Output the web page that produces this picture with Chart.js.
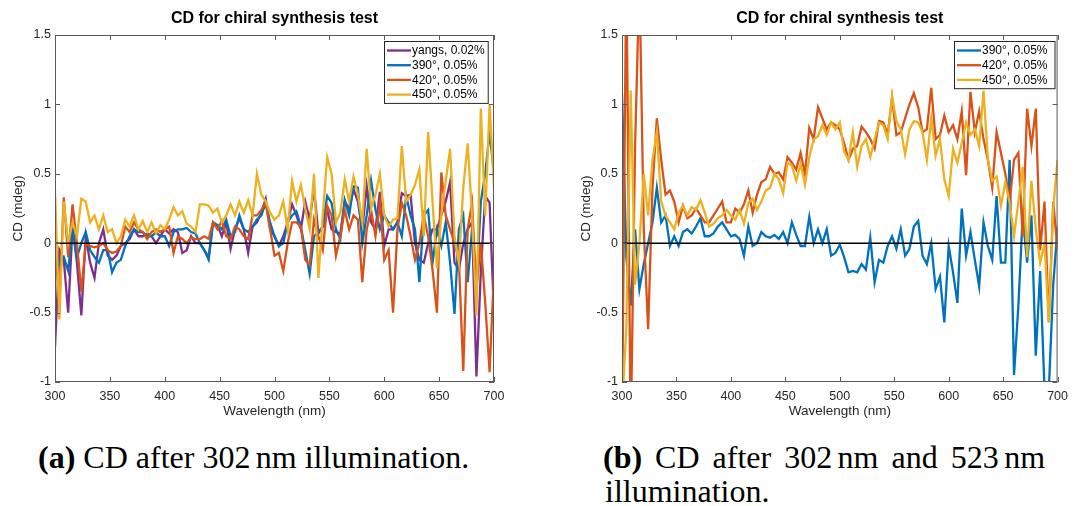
<!DOCTYPE html>
<html><head><meta charset="utf-8">
<script src="https://cdn.jsdelivr.net/npm/chart.js@4.4.0/dist/chart.umd.min.js"></script>
<style>
html,body{margin:0;padding:0;background:#fff;}
body{width:1075px;height:506px;position:relative;overflow:hidden;}
canvas{position:absolute;top:0;}
#c1{left:0;} #c2{left:540px;}
.cap{position:absolute;font-family:"Liberation Serif","Times New Roman",serif;font-size:32px;line-height:32px;color:#000;white-space:nowrap;}
.t{margin-left:0.17em;}
</style></head><body>
<canvas id="c1" width="540" height="430"></canvas>
<canvas id="c2" width="535" height="430"></canvas>
<div class="cap" style="left:38px;top:441px;"><b>(a)</b> CD after 302<span class="t">nm</span> illumination.</div>
<div class="cap" style="left:603px;top:441px;width:442px;text-align:justify;text-align-last:justify;white-space:normal;"><b>(b)</b> CD after 302<span class="t">nm</span> and 523<span class="t">nm</span></div>
<div class="cap" style="left:605px;top:475px;">illumination.</div>
<script>
// ---- data ----
const wavelengths = [300,304,308,312,316,320,324,328,332,336,340,344,348,352,356,360,364,368,372,376,
380,384,388,392,396,400,404,408,412,416,420,424,428,432,436,440,444,448,452,456,
460,464,468,472,476,480,484,488,492,496,500,504,508,512,516,520,524,528,532,536,
540,544,548,552,556,560,564,568,572,576,580,584,588,592,596,600,604,608,612,616,
620,624,628,632,636,640,644,648,652,656,660,664,668,672,676,680,684,688,692,696,700];
const xTicks = [300,350,400,450,500,550,600,650,700];
const yTicks = [-1,-0.5,0,0.5,1,1.5];
const chartTitle = 'CD for chiral synthesis test';
const xLabel = 'Wavelength (nm)';
const yLabel = 'CD (mdeg)';

// (a) CD after 302 nm illumination
const aYangs = [-0.75,-0.05,-0.12,-0.5,0.12,-0.14,-0.52,0.05,-0.14,-0.25,
0.0,0.1,-0.09,-0.12,-0.09,-0.02,0.0,0.03,0.1,0.05,
0.05,0.07,0.05,0.0,0.05,0.1,0.07,0.1,0.08,-0.07,
-0.05,0.05,0.0,0.0,-0.05,-0.1,0.15,0.13,0.05,0.15,
-0.04,0.1,0.18,0.1,-0.07,0.12,0.15,0.22,0.32,0.1,
0.05,-0.02,0.05,0.15,0.28,0.2,0.1,0.3,0.17,0.39,
0.07,0.12,0.24,0.1,0.08,0.07,0.3,0.25,0.39,0.3,
0.1,0.41,0.15,0.1,0.37,-0.02,0.1,0.1,0.15,0.36,
0.34,0.35,0.0,-0.12,-0.14,0.0,0.1,0.1,0.2,0.3,
0.44,-0.14,-0.19,0.0,0.1,0.15,-0.96,-0.2,0.34,0.29,-0.52];
const a390 = [-0.05,-0.15,-0.1,-0.2,0.1,-0.1,0.0,0.08,-0.05,-0.1,
-0.14,-0.05,-0.05,-0.21,-0.14,-0.12,-0.02,0.05,0.1,0.08,
0.08,0.05,0.05,0.08,0.05,0.05,-0.02,0.08,0.1,0.1,
0.11,0.08,0.07,0.0,-0.05,-0.12,0.15,0.13,0.1,0.17,
0.05,0.08,0.2,0.1,0.08,0.12,0.17,0.2,0.29,0.15,
0.05,-0.02,0.0,0.15,0.2,0.23,0.12,-0.05,-0.22,0.05,
0.08,0.12,0.34,0.29,0.1,0.03,0.31,0.2,0.41,0.4,
0.0,0.2,0.45,0.24,0.1,0.2,0.15,0.1,0.15,0.05,
0.34,0.2,0.1,-0.28,0.2,0.24,-0.14,0.1,-0.02,0.15,
-0.14,-0.51,0.1,0.2,-0.28,0.1,-0.33,0.3,0.5,0.8,0.5];
const a420 = [0.0,-0.45,0.33,-0.1,0.28,0.0,-0.35,0.0,-0.02,-0.03,
-0.02,0.0,-0.05,-0.07,-0.06,-0.02,0.12,0.08,0.15,0.1,
0.08,0.03,0.08,0.1,0.08,0.1,0.12,-0.07,0.05,0.03,
0.0,0.04,0.03,0.03,0.05,0.03,0.15,0.1,0.16,0.05,
0.03,0.12,0.1,0.05,0.03,0.2,0.2,0.24,0.29,0.1,
-0.09,-0.07,-0.2,0.0,0.15,0.15,0.12,-0.12,-0.16,0.17,
0.05,-0.05,0.27,0.2,-0.09,0.05,0.24,0.1,0.2,0.17,
-0.28,0.1,0.24,0.05,0.29,-0.12,-0.05,-0.5,0.1,0.29,
0.2,0.05,-0.12,0.0,0.2,0.05,-0.19,-0.5,0.51,0.2,
0.1,0.0,-0.12,-0.92,0.1,0.29,-0.33,0.0,-0.43,-0.93,-0.2];
const a450 = [0.38,-0.55,0.3,0.0,0.15,0.05,0.32,0.3,0.15,0.2,
0.1,0.2,0.08,0.1,0.0,0.05,0.17,0.12,0.2,0.1,
0.16,0.08,0.15,0.07,0.13,0.1,0.17,0.26,0.2,0.23,
0.14,0.12,0.08,0.28,0.28,0.27,0.22,0.25,0.15,0.2,
0.28,0.2,0.3,0.22,0.31,0.2,0.5,0.35,0.3,0.22,
0.17,0.2,0.3,0.1,0.45,0.3,0.42,0.25,0.1,0.5,
-0.25,0.2,0.62,0.5,0.15,0.22,0.46,0.3,0.48,0.35,
0.15,0.68,0.25,0.35,0.5,0.2,0.12,0.17,0.18,0.7,
0.3,0.35,0.42,0.53,0.05,0.8,0.3,-0.18,0.2,0.45,
0.68,0.05,-0.14,0.4,0.72,0.2,-0.52,0.97,0.2,1.0,0.4];

// (b) CD after 302 nm and 523 nm illumination
const b390 = [1.08,-0.1,-0.45,0.1,-0.33,-0.15,0.0,0.15,0.4,0.15,
0.2,-0.02,0.05,-0.02,0.08,0.1,0.07,0.12,0.18,0.05,
0.05,0.07,0.12,0.15,0.1,0.05,0.06,0.03,-0.09,0.12,
-0.02,0.0,0.08,0.05,0.04,0.06,0.03,0.08,0.0,0.15,
0.06,-0.02,-0.02,0.19,0.0,0.1,0.0,0.1,-0.09,-0.07,
-0.01,-0.1,-0.21,-0.2,-0.21,-0.15,-0.19,0.04,-0.28,-0.12,
-0.14,-0.02,0.05,-0.04,0.1,-0.09,-0.04,0.12,0.16,-0.09,
-0.15,0.0,-0.33,-0.24,-0.57,-0.02,-0.21,-0.43,0.25,-0.09,
0.08,-0.12,-0.31,0.15,-0.02,-0.12,0.34,-0.14,-0.14,0.6,
-0.95,-0.45,0.2,-0.14,0.2,-0.81,-0.2,-1.05,-1.05,-0.3,0.12];
const b420 = [-1.3,2.0,-1.4,0.7,1.9,0.1,-0.62,0.4,0.9,0.6,
0.35,0.38,0.3,0.15,0.27,0.18,0.2,0.25,0.2,0.15,
0.15,0.2,0.25,0.3,0.15,0.15,0.25,0.22,0.28,0.38,
0.22,0.35,0.44,0.46,0.55,0.5,0.51,0.46,0.62,0.58,
0.53,0.65,0.5,0.83,0.75,0.98,0.9,0.82,0.87,0.85,
0.82,0.72,0.6,0.68,0.7,0.84,0.8,0.75,0.68,0.88,
0.87,0.78,1.05,0.78,0.8,0.9,1.0,1.08,0.98,0.8,
0.82,1.12,0.75,0.78,0.92,0.8,0.85,0.75,0.95,0.49,
1.09,0.8,0.95,0.75,0.6,0.4,0.8,0.65,0.5,0.3,
0.6,0.65,0.05,0.97,0.7,0.97,-0.05,0.3,-0.57,0.3,-0.05];
const b450 = [-1.2,-0.6,1.1,-0.3,0.0,0.5,0.2,0.6,0.8,0.3,
0.2,0.15,0.1,0.22,0.27,0.2,0.26,0.24,0.31,0.22,
0.12,0.14,0.18,0.2,0.24,0.2,0.17,0.24,0.14,0.29,
0.32,0.24,0.3,0.38,0.4,0.5,0.46,0.36,0.58,0.56,
0.45,0.57,0.42,0.62,0.75,0.77,0.85,0.78,0.87,0.82,
0.87,0.66,0.6,0.8,0.55,0.7,0.75,0.62,0.75,0.87,
0.85,0.75,1.06,0.88,0.82,0.64,0.82,0.88,0.87,0.8,
0.6,0.9,0.63,0.75,0.46,0.34,0.68,0.58,0.72,0.87,
0.78,0.82,0.7,1.1,0.6,0.45,0.48,0.27,0.44,0.29,
0.05,0.3,0.55,-0.1,0.45,0.1,-0.14,0.0,-0.57,0.25,0.6];

const seriesLabels = {yangs:'yangs, 0.02%', s390:'390°, 0.05%', s420:'420°, 0.05%', s450:'450°, 0.05%'};
const colors = {yangs:'#7E2F8E', s390:'#0072BD', s420:'#D95319', s450:'#EDB120'};
const drawOrder = {yangs:4, s390:3, s420:2, s450:1};

// ---- rendering ----
const SANS = '"Liberation Sans", Arial, Helvetica, sans-serif';
const AX = '#262626';

const framePlugin = {
  id: 'frame',
  afterDatasetsDraw(chart, args, opts) {
    const {ctx, chartArea: a, scales: {x, y}} = chart;
    ctx.save();
    const y0 = y.getPixelForValue(0);
    ctx.strokeStyle = '#000'; ctx.lineWidth = 1.5;
    ctx.beginPath(); ctx.moveTo(a.left, y0); ctx.lineTo(a.right, y0); ctx.stroke();
    ctx.strokeStyle = '#5a5a5a'; ctx.lineWidth = 1;
    ctx.strokeRect(a.left + 0.5, a.top + 0.5, a.right - a.left - 1, a.bottom - a.top - 1);
    const tl = 5;
    ctx.beginPath();
    x.ticks.forEach(t => {
      const px = Math.round(x.getPixelForValue(t.value)) + 0.5;
      ctx.moveTo(px, a.bottom); ctx.lineTo(px, a.bottom - tl);
      ctx.moveTo(px, a.top); ctx.lineTo(px, a.top + tl);
    });
    y.ticks.forEach(t => {
      const py = Math.round(y.getPixelForValue(t.value)) + 0.5;
      ctx.moveTo(a.left, py); ctx.lineTo(a.left + tl, py);
      ctx.moveTo(a.right, py); ctx.lineTo(a.right - tl, py);
    });
    ctx.stroke();
    const ds = chart.data.datasets;
    ctx.font = '12px ' + SANS;
    let tw = 0;
    ds.forEach(d => { tw = Math.max(tw, ctx.measureText(d.label).width); });
    const rowH = 14.7;
    const bw = 28 + tw + (opts.textPad || 4);
    const bh = 9.5 + (ds.length - 1) * rowH + 8.3;
    const bx = Math.round(a.right - opts.gapRight - bw);
    const by = Math.round(a.top + 6);
    ctx.fillStyle = '#fff';
    ctx.fillRect(bx, by, bw, bh);
    ctx.strokeStyle = '#262626'; ctx.lineWidth = 1;
    ctx.strokeRect(bx + 0.5, by + 0.5, bw, bh);
    ds.forEach((d, i) => {
      const ry = by + 9.5 + i * rowH;
      ctx.strokeStyle = d.borderColor; ctx.lineWidth = 2.3;
      ctx.beginPath(); ctx.moveTo(bx + 3, ry); ctx.lineTo(bx + 27, ry); ctx.stroke();
      ctx.fillStyle = '#000'; ctx.textBaseline = 'middle'; ctx.textAlign = 'left';
      ctx.fillText(d.label, bx + 28, ry + 0.5);
    });
    ctx.restore();
  }
};

function makeChart(id, keys, arrays, layoutPad, yWidth, gapRight, textPad) {
  const datasets = keys.map((k, i) => ({
    label: seriesLabels[k],
    data: wavelengths.map((w, j) => ({x: w, y: arrays[i][j]})),
    borderColor: colors[k],
    backgroundColor: colors[k],
    borderWidth: 2.3,
    pointRadius: 0,
    tension: 0,
    fill: false,
    order: drawOrder[k]
  }));
  return new Chart(document.getElementById(id), {
    type: 'line',
    data: {datasets},
    plugins: [framePlugin],
    options: {
      responsive: false, animation: false, devicePixelRatio: 1, events: [],
      layout: {padding: layoutPad},
      plugins: {
        legend: {display: false},
        tooltip: {enabled: false},
        title: {display: true, text: chartTitle, color: '#000', fullSize: false,
                font: {family: SANS, size: 16, weight: 'bold'}, padding: {top: 9, bottom: 6.8}},
        frame: {gapRight, textPad}
      },
      scales: {
        x: {
          type: 'linear', min: 300, max: 700,
          afterBuildTicks: s => { s.ticks = xTicks.map(v => ({value: v})); },
          ticks: {autoSkip: false, maxRotation: 0, padding: 7, color: AX, font: {family: SANS, size: 12.5},
                  callback: v => String(v)},
          grid: {display: false, drawTicks: false, tickLength: 0},
          border: {display: false},
          title: {display: true, text: xLabel, color: AX, font: {family: SANS, size: 13.5}, padding: {top: 0, bottom: 11}},
          afterFit: s => { s.height = 48; }
        },
        y: {
          min: -1, max: 1.5,
          afterBuildTicks: s => { s.ticks = yTicks.map(v => ({value: v})); },
          ticks: {padding: 4, color: AX, font: {family: SANS, size: 12.5}, callback: v => String(v)},
          grid: {display: false, drawTicks: false, tickLength: 0},
          border: {display: false},
          title: {display: true, text: yLabel, color: AX, font: {family: SANS, size: 13.5}, padding: {top: 10, bottom: 0}},
          afterFit: s => { s.width = yWidth; }
        }
      }
    }
  });
}

makeChart('c1', ['yangs','s390','s420','s450'], [aYangs, a390, a420, a450],
  {left: 0, right: 46, top: 0, bottom: 0}, 55, 6, 3);
makeChart('c2', ['s390','s420','s450'], [b390, b420, b450],
  {left: 28, right: 13, top: 0, bottom: 0}, 54, 3, 7);
</script>
</body></html>
